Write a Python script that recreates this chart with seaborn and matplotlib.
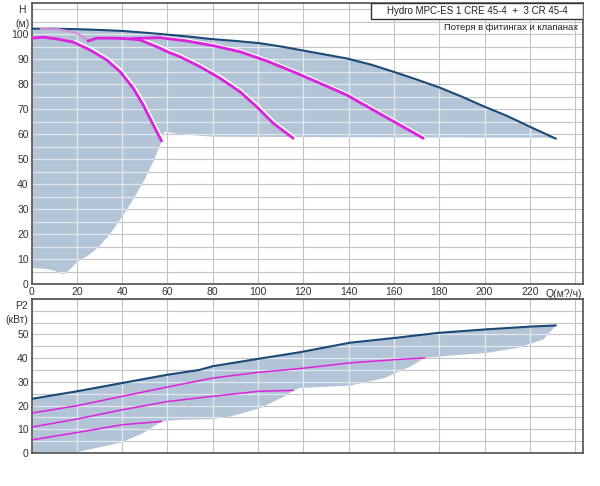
import matplotlib
matplotlib.use("Agg")
import matplotlib.pyplot as plt
import matplotlib.transforms as mtransforms
from matplotlib.patches import Rectangle
import seaborn as sns

# --- Q-H: system envelope (dark curve) ---
q_max = [0, 10, 20, 30, 40, 50, 56.7, 60, 70, 78.8, 90, 100.8, 110, 118.5, 130, 139.1,
         150, 159.7, 170, 180.3, 190, 200, 210, 220, 226, 231.5]
h_max = [102.2, 102.2, 102.0, 101.7, 101.3, 100.6, 100.1, 99.8, 99.0, 98.1, 97.3, 96.4,
         95.1, 93.7, 91.8, 90.3, 87.8, 85.0, 81.9, 78.6, 75.0, 71.0, 67.3, 63.0, 60.5, 58.2]

# --- Q-H: pump curves (1, 2, 3 pumps) ---
q_h1 = [0, 5.2, 11.1, 18.5, 25.8, 33.2, 39.1, 44.9, 49.3, 53, 57.4]
h_h1 = [98.4, 98.8, 98.1, 96.8, 93.7, 89.7, 85.0, 78.4, 71.7, 65.0, 57.3]
q_h2 = [25, 28.8, 36.2, 42, 47.9, 52, 56.7, 61, 65.5, 74.4, 83.2, 92, 99.4, 106.7, 115.5]
h_h2 = [97.3, 98.4, 98.4, 98.2, 97.7, 96.2, 94.4, 92.6, 91.0, 87.0, 82.4, 77.0, 71.0, 64.4, 58.4]
q_h3 = [44, 50, 56.7, 68.5, 80.2, 92, 103.8, 115.5, 127.3, 139.1, 150.8, 162.6, 172.9]
h_h3 = [98.2, 98.4, 98.6, 97.3, 95.4, 93.0, 89.3, 85.0, 80.4, 75.7, 69.7, 63.7, 58.4]
q_h0 = [4, 11.8, 16, 19.9, 22.5, 25]
h_h0 = [102.1, 102.0, 101.3, 100.4, 99.0, 97.3]

# --- Q-H: lower edge of operating area ---
q_low = [231.5, 227, 150, 80, 66, 58.5, 57.4, 56, 54, 50, 45, 40, 35, 30, 25,
         20, 17, 15, 13, 10, 6, 0]
h_low = [58.1, 58.6, 58.8, 59.0, 60.0, 61.0, 57.0, 54.0, 49.5, 42.0, 34.0, 27.0,
         20.5, 15.2, 11.5, 8.8, 6.0, 4.3, 4.2, 5.5, 6.2, 6.5]

# --- Q-P2: power curves ---
q_pmax = [0, 20, 40, 60, 74, 80, 100, 118.5, 140.5, 161, 180, 200, 220, 231.5]
p_pmax = [22.8, 26.0, 29.5, 33.0, 35.0, 36.6, 39.7, 42.5, 46.5, 48.6, 50.7, 52.1, 53.3, 53.8]
q_p3 = [0, 20, 40, 60, 80, 100, 118.5, 140.5, 161, 173.6]
p_p3 = [16.8, 19.9, 23.9, 27.8, 31.6, 34.0, 35.6, 38.0, 39.4, 40.1]
q_p2 = [0, 20, 40, 60, 80, 100, 115.6]
p_p2 = [10.9, 14.3, 18.2, 21.7, 23.9, 26.0, 26.4]
q_p1 = [0, 20, 40, 57.5]
p_p1 = [5.5, 8.6, 11.9, 13.3]

q_plow = [231.5, 226, 215, 201, 185, 173.6, 167.5, 155.8, 140.5, 118.5, 115.6, 111.7,
          101, 88, 80, 65, 57.5, 49.5, 40, 31, 20, 0]
p_plow = [53.8, 47.9, 44.4, 42.2, 41.1, 40.1, 36.6, 31.6, 28.4, 27.4, 26.4, 23.9,
          18.9, 15.4, 14.3, 14.0, 13.3, 8.5, 4.5, 2.6, 0.3, 0.0]

q_ticks = list(range(0, 241, 20))
q_labels = [str(v) for v in range(0, 221, 20)] + ['']

C_DARK = '#1c4a78'
C_MAG = '#dc22dc'
C_FILL = '#b3c4d6'

sns.set_style("white")
plt.rcParams['font.family'] = ['Liberation Sans', 'DejaVu Sans']

fig = plt.figure(figsize=(6, 4.86), dpi=100)
ax_h = fig.add_axes([0.0525, 0.415, 0.919, 0.579])
ax_p = fig.add_axes([0.0525, 0.068, 0.919, 0.317])


def setup(ax, ymax, ylab_max, xlabels):
    ax.set_xlim(0, 243.4)
    ax.set_ylim(0, ymax)
    yt = list(range(0, int(ymax) + 1, 5))
    ax.set_xticks(q_ticks)
    ax.set_xticklabels(xlabels)
    ax.set_yticks(yt)
    ax.set_yticklabels([str(v) if v % 10 == 0 and v <= ylab_max else '' for v in yt])
    ax.tick_params(length=0, pad=2, labelsize=7.5, colors='#333333')
    ax.set_axisbelow(True)
    ax.grid(True, color='#c4c4c4', lw=0.8)
    for s in ax.spines.values():
        s.set_color('#505050')
        s.set_linewidth(1.2)
    return yt


def light_grid(ax, yt, poly):
    # grid lines show up pale over the shaded area
    for v in yt:
        ln = ax.axhline(v, color='#e2e8ef', lw=0.9, zorder=1.5)
        ln.set_clip_path(poly)
    for v in q_ticks:
        ln = ax.axvline(v, color='#e2e8ef', lw=0.9, zorder=1.5)
        ln.set_clip_path(poly)


# --- upper chart: H(Q) ---
yt_h = setup(ax_h, 112.5, 100, q_labels)
poly_h = ax_h.fill([0] + q_max + q_low, [h_max[0]] + h_max + h_low,
                   color=C_FILL, lw=0, zorder=1)[0]
light_grid(ax_h, yt_h, poly_h)

hl = mtransforms.offset_copy(ax_h.transData, fig=fig, x=1.5, y=1.5, units='dots')
ax_h.plot(q_h1[3:], h_h1[3:], color='white', lw=1.6, transform=hl, zorder=1.8)
ax_h.plot(q_h2[4:], h_h2[4:], color='white', lw=1.4, transform=hl, zorder=1.8)
ax_h.plot(q_h3[2:], h_h3[2:], color='white', lw=1.0, transform=hl, zorder=1.8)

sns.lineplot(x=q_max, y=h_max, ax=ax_h, color=C_DARK, lw=1.5, sort=False, zorder=3)
sns.lineplot(x=q_h0, y=h_h0, ax=ax_h, color='#d68ad6', lw=1.4, sort=False, zorder=3)
for q, h in [(q_h1, h_h1), (q_h2, h_h2), (q_h3, h_h3)]:
    sns.lineplot(x=q, y=h, ax=ax_h, color=C_MAG, lw=2, sort=False, zorder=4)
ax_h.set_xlabel('')
ax_h.set_ylabel('')

ax_h.text(0.998, -0.033, 'Q(м?/ч)', transform=ax_h.transAxes, ha='right', va='center',
          fontsize=7.5, color='#333333')

ax_h.add_patch(Rectangle((0.616, 0.943), 0.384, 0.057, transform=ax_h.transAxes,
                         facecolor='white', edgecolor='#333333', lw=1, zorder=5))
ax_h.text(0.808, 0.9715, 'Hydro MPC-ES 1 CRE 45-4  +  3 CR 45-4', transform=ax_h.transAxes,
          ha='center', va='center', fontsize=7, color='#222222', zorder=6)
ax_h.text(0.991, 0.911, 'Потеря в фитингах и клапанах', transform=ax_h.transAxes,
          ha='right', va='center', fontsize=6.8, color='#222222', zorder=6)

fig.text(22 / 600, 1 - 10 / 486, 'H', ha='center', va='center', fontsize=7.5, color='#333333')
fig.text(22 / 600, 1 - 24 / 486, '(м)', ha='center', va='center', fontsize=7.5, color='#333333')

# --- lower chart: P2(Q) ---
yt_p = setup(ax_p, 65, 50, [''] * len(q_ticks))
poly_p = ax_p.fill(q_pmax + q_plow, p_pmax + p_plow, color=C_FILL, lw=0, zorder=1)[0]
light_grid(ax_p, yt_p, poly_p)

sns.lineplot(x=q_pmax, y=p_pmax, ax=ax_p, color=C_DARK, lw=1.5, sort=False, zorder=3)
for q, p in [(q_p3, p_p3), (q_p2, p_p2), (q_p1, p_p1)]:
    sns.lineplot(x=q, y=p, ax=ax_p, color=C_MAG, lw=1.1, sort=False, zorder=4)
ax_p.set_xlabel('')
ax_p.set_ylabel('')

fig.text(22 / 600, 1 - 306 / 486, 'P2', ha='center', va='center', fontsize=7.5, color='#333333')
fig.text(17 / 600, 1 - 320 / 486, '(кВт)', ha='center', va='center', fontsize=7.5, color='#333333')

fig.savefig('out.png', dpi=100)
